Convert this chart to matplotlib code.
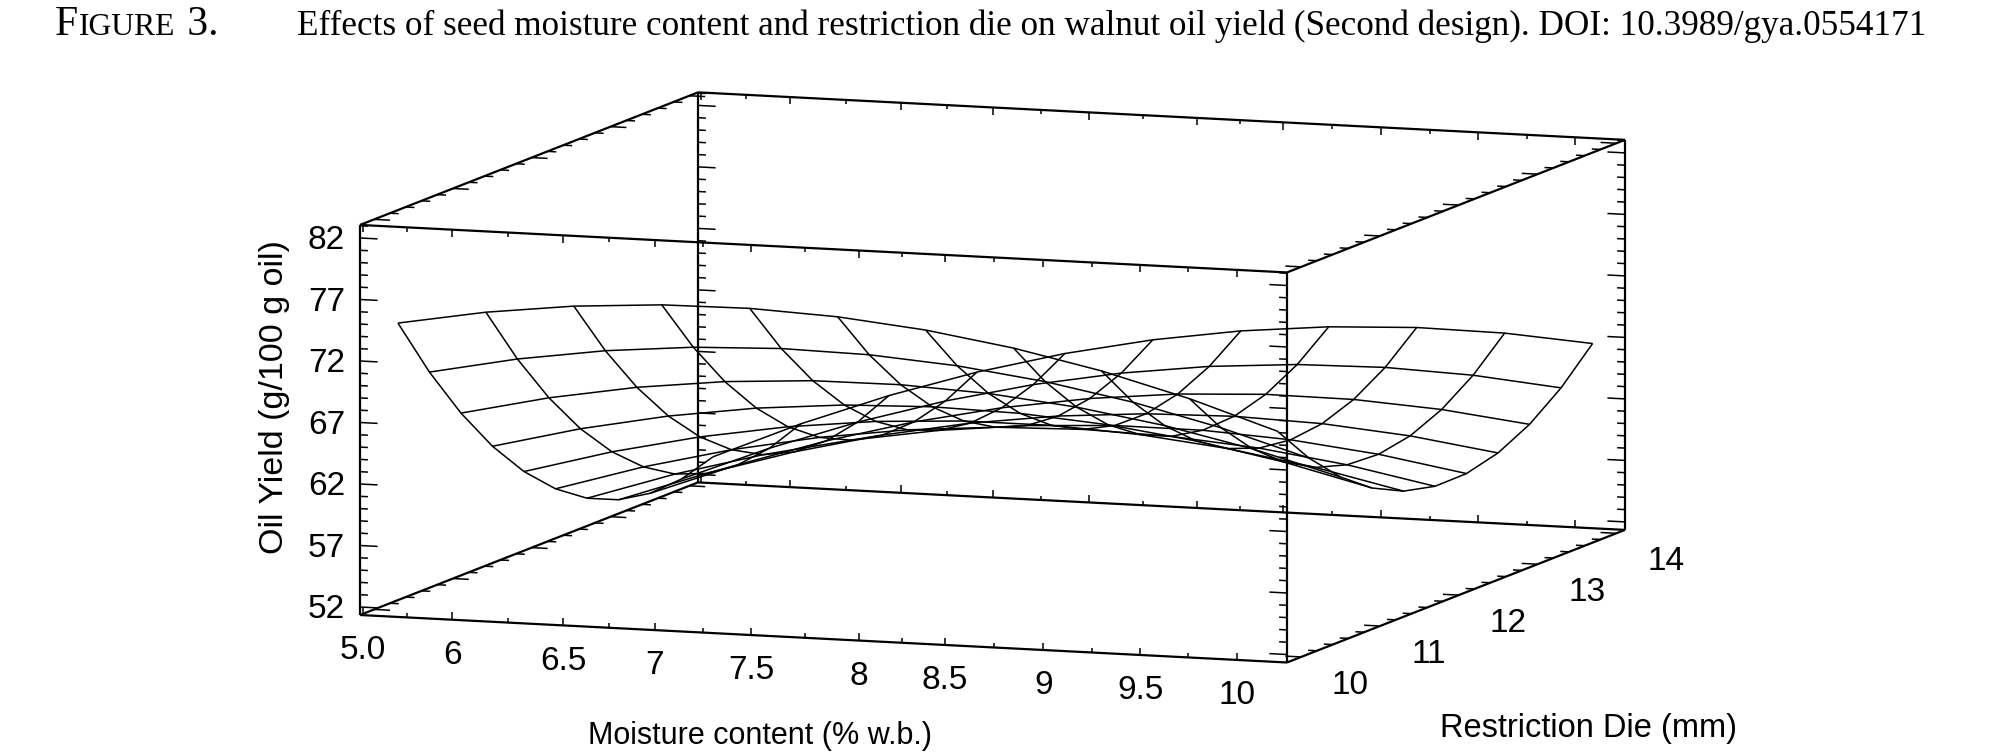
import numpy as np
import matplotlib
matplotlib.use("Agg")
import matplotlib.pyplot as plt
from mpl_toolkits.mplot3d import proj3d
from mpl_toolkits.mplot3d.art3d import Line3DCollection

# ------------------------------------------------------------------ data
moisture = [5.0, 5.5, 6.0, 6.5, 7.0, 7.5, 8.0, 8.5, 9.0, 9.5, 10.0]          # % w.b.
restriction_die = [10.0, 10.4, 10.8, 11.2, 11.6, 12.0, 12.4, 12.8, 13.2, 13.6, 14.0]  # mm
# oil yield (g/100 g oil): one row per restriction-die value, columns follow moisture
oil_yield = [
    [74.73, 75.98, 76.84, 77.31, 77.39, 77.07, 76.36, 75.26, 73.77, 71.88, 69.60],
    [69.74, 71.17, 72.21, 72.86, 73.12, 72.98, 72.45, 71.53, 70.22, 68.51, 66.41],
    [65.40, 67.01, 68.23, 69.06, 69.50, 69.54, 69.19, 68.45, 67.32, 65.79, 63.87],
    [61.70, 63.49, 64.89, 65.90, 66.52, 66.74, 66.57, 66.01, 65.06, 63.71, 61.97],
    [58.64, 60.61, 62.19, 63.38, 64.18, 64.58, 64.59, 64.21, 63.44, 62.27, 60.71],
    [56.23, 58.38, 60.14, 61.51, 62.49, 63.07, 63.26, 63.06, 62.47, 61.48, 60.10],
    [54.46, 56.79, 58.73, 60.28, 61.44, 62.20, 62.57, 62.55, 62.14, 61.33, 60.13],
    [53.33, 55.84, 57.96, 59.69, 61.03, 61.97, 62.52, 62.68, 62.45, 61.82, 60.80],
    [52.85, 55.54, 57.84, 59.75, 61.27, 62.39, 63.12, 63.46, 63.41, 62.96, 62.12],
    [53.01, 55.88, 58.36, 60.45, 62.15, 63.45, 64.36, 64.88, 65.01, 64.74, 64.08],
    [53.81, 56.86, 59.52, 61.79, 63.67, 65.15, 66.24, 66.94, 67.25, 67.16, 66.68],
]

x_range = (4.865, 10.135)
y_range = (9.82, 14.11)
z_range = (51.35, 83.06)

x_tick_labels = ["5.0", "6", "6.5", "7", "7.5", "8", "8.5", "9", "9.5", "10"]
x_tick_pos = [4.88, 5.39, 6.02, 6.54, 7.09, 7.70, 8.19, 8.75, 9.30, 9.85]
y_tick_vals = [10, 11, 12, 13, 14]
z_tick_vals = [52, 57, 62, 67, 72, 77, 82]

title_main = ("Effects of seed moisture content and restriction die on walnut oil "
              "yield (Second design). DOI: 10.3989/gya.0554171")
x_title = "Moisture content (% w.b.)"
y_title = "Restriction Die (mm)"
z_title = "Oil Yield (g/100 g oil)"

# ------------------------------------------------------------------ figure
W, H, DPI = 1996, 752, 100
fig = plt.figure(figsize=(W / DPI, H / DPI), dpi=DPI)
fig.patch.set_facecolor("white")

ax = fig.add_axes([0, 0, 1, 1], projection="3d")
ax.set_proj_type("ortho")
ax.view_init(elev=8.15, azim=-70.13)
ax.set_box_aspect((985.6, 994.4, 394.0))
X0, X1 = x_range
Y0, Y1 = y_range
Z0, Z1 = z_range
ax.set_xlim(X0, X1)
ax.set_ylim(Y0, Y1)
ax.set_zlim(Z0, Z1)
ax.set_axis_off()
ax.patch.set_alpha(0)
ax.computed_zorder = False

# surface mesh (plain wire mesh, every line visible)
XX, YY = np.meshgrid(moisture, restriction_die)
ZZ = np.array(oil_yield)
ax.plot_wireframe(XX, YY, ZZ, rstride=1, cstride=1, color="black",
                  linewidth=1.1, antialiased=True, zorder=1)

# box edges
box_kw = dict(color="black", linewidth=1.6, zorder=3, solid_capstyle="butt")
for yy in (Y0, Y1):
    for zz in (Z0, Z1):
        ax.plot([X0, X1], [yy, yy], [zz, zz], **box_kw)
for xx in (X0, X1):
    for zz in (Z0, Z1):
        ax.plot([xx, xx], [Y0, Y1], [zz, zz], **box_kw)
for xx in (X0, X1):
    for yy in (Y0, Y1):
        ax.plot([xx, xx], [yy, yy], [Z0, Z1], **box_kw)

# tick marks
segs = []
for v in range(52, 84):
    L = 0.10 if v in z_tick_vals else 0.045
    for xe, ye, d in ((X0, Y0, 1), (X0, Y1, 1), (X1, Y0, -1), (X1, Y1, -1)):
        segs.append([(xe, ye, v), (xe + d * L, ye, v)])
for i in range(21):
    v = 10 + 0.2 * i
    L = 0.09 if i % 5 == 0 else 0.05
    for xe, ze, d in ((X0, Z0, 1), (X0, Z1, 1), (X1, Z0, -1), (X1, Z1, -1)):
        segs.append([(xe, v, ze), (xe + d * L, v, ze)])
x_minor = [(a + b) / 2 for a, b in zip(x_tick_pos[:-1], x_tick_pos[1:])]
for v, L in [(p, 0.6) for p in x_tick_pos] + [(p, 0.35) for p in x_minor]:
    for ye, ze, d in ((Y0, Z0, 1), (Y0, Z1, -1), (Y1, Z0, 1), (Y1, Z1, -1)):
        segs.append([(v, ye, ze), (v, ye, ze + d * L)])
ax.add_collection3d(Line3DCollection(segs, colors="black", linewidths=1.1, zorder=3))

# ------------------------------------------------------------------ place the 3-D box
T0 = np.array([360.0, H - 615.0])     # front-left-bottom corner (pixels)
T1x = 1287.0                          # front-right-bottom corner x


def disp(x, y, z):
    xs, ys, _ = proj3d.proj_transform(x, y, z, ax.get_proj())
    return np.array(ax.transData.transform((xs, ys)))


for _ in range(3):
    fig.canvas.draw()
    P0 = disp(X0, Y0, Z0)
    P1 = disp(X1, Y0, Z0)
    k = (T1x - T0[0]) / (P1[0] - P0[0])
    bb = ax.get_position()
    L = bb.width * W
    C = np.array([(bb.x0 + bb.width / 2) * W, (bb.y0 + bb.height / 2) * H])
    Cn = T0 - k * (P0 - C)
    Ln = k * L
    ax.set_position([(Cn[0] - Ln / 2) / W, (Cn[1] - Ln / 2) / H, Ln / W, Ln / H])
fig.canvas.draw()

# tick labels, placed at the projected 3-D anchor points
sans = ["Liberation Sans", "DejaVu Sans"]
tfs = 24


def label3d(x, y, z, s, **kw):
    px, py = disp(x, y, z)
    fig.text(px / W, py / H, s, fontsize=tfs, family=sans, **kw)


for p, lab in zip(x_tick_pos, x_tick_labels):
    label3d(p, Y0, Z0 - 2.9, lab, ha="center", va="center")
for v in y_tick_vals:
    label3d(X1 + 0.28, v, Z0 - 2.12, str(v), ha="center", va="center")
for v in z_tick_vals:
    label3d(X0 - 0.085, Y0, v - 0.3, str(v), ha="right", va="center")

# axis titles
fig.text(760 / W, 1 - 736 / H, x_title, ha="center", va="center",
         fontsize=22, family=sans)
fig.text(1589 / W, 1 - 729 / H, y_title, ha="center", va="center",
         fontsize=23.5, family=sans)
fig.text(274 / W, 1 - 397 / H, z_title, ha="center", va="center",
         fontsize=24.5, family=sans, rotation=90)

# ------------------------------------------------------------------ caption
serif = ["Liberation Serif", "DejaVu Serif"]
r = fig.canvas.get_renderer()
base_y = 1 - 35 / H
tm = fig.text(297 / W, base_y, title_main, fontsize=20, family=serif,
              ha="left", va="baseline")
wpx = tm.get_window_extent(r).width
fs = 20 * (1928 - 297) / wpx
tm.set_fontsize(fs)

# "FIGURE 3." in small capitals, fitted to its width in the caption
parts = (("F", 1.0), ("IGURE", 0.76), (" 3.", 1.0))
probe = []
xpos = 55.0
for txt, scale in parts:
    t = fig.text(xpos / W, base_y, txt, fontsize=20 * scale, family=serif,
                 ha="left", va="baseline")
    probe.append((t, scale))
    xpos += t.get_window_extent(r).width + 1
fs2 = 20 * (221 - 55) / (xpos - 55)
xpos = 55.0
for t, scale in probe:
    t.set_fontsize(fs2 * scale)
    t.set_x(xpos / W)
    xpos += t.get_window_extent(r).width + 1

fig.savefig("out.png", dpi=DPI, facecolor="white")
